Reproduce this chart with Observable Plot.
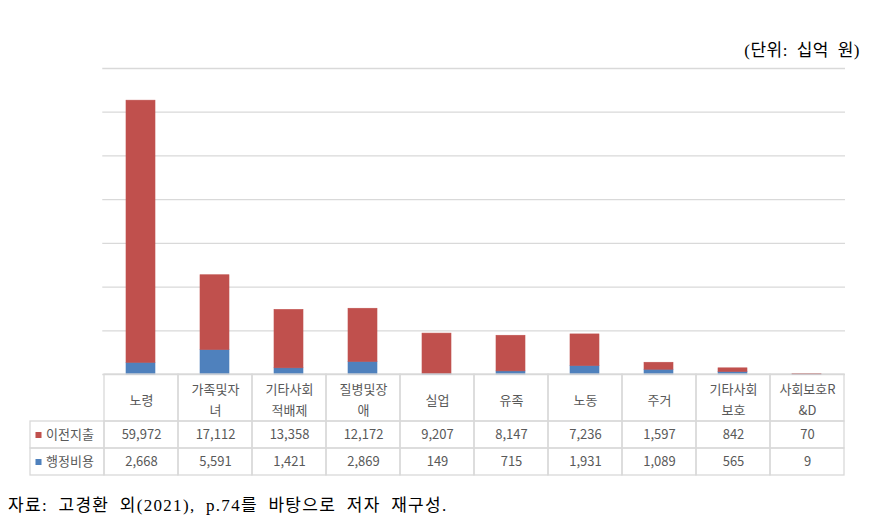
<!DOCTYPE html>
<html><head><meta charset="utf-8">
<script src="https://cdn.jsdelivr.net/npm/d3@7"></script>
<script src="https://cdn.jsdelivr.net/npm/@observablehq/plot@0.6"></script>
<style>
body{margin:0;background:#fff;}
#wrap{position:relative;width:873px;height:522px;overflow:hidden;}
#unit{position:absolute;right:13px;top:40px;font-family:"Liberation Serif","Noto Sans CJK KR",serif;font-size:17px;line-height:22px;color:#000;letter-spacing:0.5px;word-spacing:4px;}
#chart{position:absolute;left:0;top:0;}
#table{position:absolute;left:0;top:374px;}
#caption{position:absolute;left:8px;top:495px;font-family:"Liberation Serif","Noto Sans CJK KR",serif;font-size:17px;line-height:22px;color:#000;white-space:nowrap;letter-spacing:1.3px;word-spacing:5px;}
svg{overflow:visible;}
</style>
</head><body>
<div id="wrap">
  <div id="chart"></div>
  <div id="table"></div>
  <div id="unit">(단위: 십억 원)</div>
  <div id="caption">자료: 고경환 외(2021), p.74를 바탕으로 저자 재구성.</div>
</div>
<script>
const categories = ["노령","가족및자녀","기타사회적배제","질병및장애","실업","유족","노동","주거","기타사회보호","사회보호R&D"];
const headerLabels = ["노령","가족및자\n녀","기타사회\n적배제","질병및장\n애","실업","유족","노동","주거","기타사회\n보호","사회보호R\n&D"];
const transfer = [59972,17112,13358,12172,9207,8147,7236,1597,842,70];
const admin = [2668,5591,1421,2869,149,715,1931,1089,565,9];
const seriesNames = ["이전지출","행정비용"];
const seriesColors = ["#C0504D","#4F81BD"];
const yTicks = [0,10000,20000,30000,40000,50000,60000,70000];

const W = 873, mL = 28, mR = 28;
const step = (W - mL - mR) / (categories.length + 1);
const font = "'Noto Sans CJK KR', 'Noto Sans', sans-serif";
const textColor = "#595959";
const lineColor = "#d9d9d9";

const rows = [];
categories.forEach((c, i) => {
  rows.push({category: c, series: "행정비용", value: admin[i]});
  rows.push({category: c, series: "이전지출", value: transfer[i]});
});

const chart = Plot.plot({
  width: W, height: 375,
  marginLeft: mL + step, marginRight: mR, marginTop: 68, marginBottom: 1,
  style: {fontFamily: font, background: "transparent"},
  x: {domain: categories, paddingInner: 0.61, paddingOuter: 0.305, axis: null},
  y: {domain: [0, 70000], axis: null},
  color: {domain: seriesNames, range: seriesColors},
  marks: [
    Plot.ruleY(yTicks, {stroke: lineColor, strokeWidth: 1.3}),
    Plot.barY(rows, Plot.stackY({x: "category", y: "value", fill: "series", stroke: "series", strokeWidth: 0.6, order: ["행정비용","이전지출"]}))
  ]
});
document.getElementById("chart").appendChild(chart);

const cols = ["", ...categories];
const gridCells = [];
seriesNames.forEach(s => cols.forEach(c => gridCells.push({col: c, series: s})));
const valueCells = [];
categories.forEach((c, i) => {
  valueCells.push({category: c, series: "이전지출", value: transfer[i]});
  valueCells.push({category: c, series: "행정비용", value: admin[i]});
});
const fmt = d3.format(",");

const table = Plot.plot({
  width: W, height: 102,
  marginLeft: mL, marginRight: mR, marginTop: 47, marginBottom: 1,
  style: {fontFamily: font, fontSize: "13px", background: "transparent"},
  x: {domain: cols, padding: 0, axis: null},
  y: {domain: seriesNames, padding: 0, axis: null},
  marks: [
    Plot.cell(gridCells, {x: "col", y: "series", fill: "none", stroke: lineColor, strokeWidth: 1.3}),
    Plot.cell(categories, {x: d => d, y: () => "이전지출", fill: "none", stroke: lineColor, strokeWidth: 1.3, insetTop: -47, insetBottom: 27}),
    Plot.text(categories, {x: d => d, frameAnchor: "top", dy: -23.5, text: (d, i) => headerLabels[i], lineAnchor: "middle", lineHeight: 1.6, fill: textColor, fontSize: 13}),
    Plot.text(valueCells, {x: "category", y: "series", text: d => fmt(d.value), fill: textColor, fontSize: 13}),
    Plot.dot(seriesNames, {x: () => "", y: d => d, symbol: "square", r: 3.4, fill: (d, i) => seriesColors[i], dx: -29}),
    Plot.text(seriesNames, {x: () => "", y: d => d, text: d => d, textAnchor: "start", dx: -21.5, fill: textColor, fontSize: 13})
  ]
});
document.getElementById("table").appendChild(table);
</script>
</body></html>
